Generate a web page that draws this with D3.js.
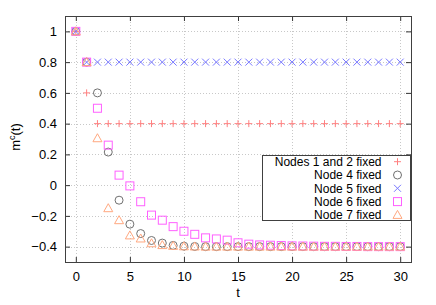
<!DOCTYPE html>
<html>
<head>
<meta charset="utf-8">
<script src="https://cdn.jsdelivr.net/npm/d3@7"></script>
<style>
  body { margin: 0; background: #fff; }
  text { font-family: "Liberation Sans", Arial, sans-serif; }
</style>
</head>
<body>
<div id="chart"></div>
<script>
// Chart size and plot box
const WIDTH = 436;
const HEIGHT = 305;
const MARGIN = { left: 65, top: 16, right: 25, bottom: 43 };

// Data
const tValues = [0, 1, 2, 3, 4, 5, 6, 7, 8, 9, 10, 11, 12, 13, 14, 15, 16, 17, 18, 19, 20,
                 21, 22, 23, 24, 25, 26, 27, 28, 29, 30];
const nodes12 = [1, 0.6, 0.4, 0.4, 0.4, 0.4, 0.4, 0.4, 0.4, 0.4, 0.4, 0.4, 0.4, 0.4, 0.4, 0.4,
                 0.4, 0.4, 0.4, 0.4, 0.4, 0.4, 0.4, 0.4, 0.4, 0.4, 0.4, 0.4, 0.4, 0.4, 0.4];
const node4 = [1, 0.8, 0.6, 0.215, -0.098, -0.254, -0.315, -0.36, -0.377, -0.392, -0.397,
               -0.399, -0.4, -0.4, -0.4, -0.4, -0.4, -0.4, -0.4, -0.4, -0.4, -0.4, -0.4, -0.4,
               -0.4, -0.4, -0.4, -0.4, -0.4, -0.4, -0.4];
const node5 = [1, 0.8, 0.8, 0.8, 0.8, 0.8, 0.8, 0.8, 0.8, 0.8, 0.8, 0.8, 0.8, 0.8, 0.8, 0.8,
               0.8, 0.8, 0.8, 0.8, 0.8, 0.8, 0.8, 0.8, 0.8, 0.8, 0.8, 0.8, 0.8, 0.8, 0.8];
const node6 = [1, 0.8, 0.5, 0.26, 0.065, -0.005, -0.108, -0.195, -0.228, -0.27, -0.3, -0.32,
               -0.343, -0.35, -0.358, -0.375, -0.384, -0.389, -0.391, -0.393, -0.395, -0.396,
               -0.397, -0.398, -0.398, -0.399, -0.399, -0.4, -0.4, -0.4, -0.4];
const node7 = [1, 0.8, 0.305, -0.15, -0.228, -0.327, -0.347, -0.378, -0.39, -0.395, -0.398,
               -0.399, -0.4, -0.4, -0.4, -0.4, -0.4, -0.4, -0.4, -0.4, -0.4, -0.4, -0.4, -0.4,
               -0.4, -0.4, -0.4, -0.4, -0.4, -0.4, -0.4];
const xTicks = [0, 5, 10, 15, 20, 25, 30];
const yTicks = [-0.4, -0.2, 0, 0.2, 0.4, 0.6, 0.8, 1];

const seriesList = [
    { name: "Nodes 1 and 2 fixed", values: nodes12, symbol: "plus", color: "#ff8080" },
    { name: "Node 4 fixed", values: node4, symbol: "circle", color: "#707070" },
    { name: "Node 5 fixed", values: node5, symbol: "cross", color: "#7878ff" },
    { name: "Node 6 fixed", values: node6, symbol: "square", color: "#ff60ff" },
    { name: "Node 7 fixed", values: node7, symbol: "triangle", color: "#ffa880" }
];

const plotW = WIDTH - MARGIN.left - MARGIN.right;
const plotH = HEIGHT - MARGIN.top - MARGIN.bottom;

const svg = d3.select("#chart").append("svg")
    .attr("width", WIDTH).attr("height", HEIGHT);
const g = svg.append("g").attr("transform", `translate(${MARGIN.left},${MARGIN.top})`);

const x = d3.scaleLinear().domain([-1, 31]).range([0, plotW]);
const y = d3.scaleLinear().domain([-0.5, 1.1]).range([plotH, 0]);

// Dotted grid
g.append("g").selectAll("line").data(xTicks).join("line")
    .attr("x1", d => Math.round(x(d)) + 0.5).attr("x2", d => Math.round(x(d)) + 0.5)
    .attr("y1", 0).attr("y2", plotH)
    .attr("stroke", "#c8c8c8").attr("stroke-dasharray", "1,2");
g.append("g").selectAll("line").data(yTicks).join("line")
    .attr("y1", d => Math.round(y(d)) + 0.5).attr("y2", d => Math.round(y(d)) + 0.5)
    .attr("x1", 0).attr("x2", plotW)
    .attr("stroke", "#c8c8c8").attr("stroke-dasharray", "1,2");

// Axes, ticks pointing inward, mirrored on top and right
const fmt = d => d3.format("")(+d.toFixed(1));
const axisB = g.append("g").attr("transform", `translate(0,${plotH})`)
    .call(d3.axisBottom(x).tickValues(xTicks).tickSize(-5).tickPadding(10));
const axisL = g.append("g")
    .call(d3.axisLeft(y).tickValues(yTicks).tickSize(-5).tickPadding(8).tickFormat(fmt));
const axisT = g.append("g")
    .call(d3.axisTop(x).tickValues(xTicks).tickSize(-5).tickFormat(""));
const axisR = g.append("g").attr("transform", `translate(${plotW},0)`)
    .call(d3.axisRight(y).tickValues(yTicks).tickSize(-5).tickFormat(""));

[axisB, axisL, axisT, axisR].forEach(a => {
    a.select(".domain").remove();
    a.selectAll("line").attr("stroke", "#333");
    a.selectAll("text").attr("font-size", 13).attr("fill", "#000")
        .attr("font-family", "'Liberation Sans', Arial, sans-serif");
});

// Border
g.append("rect").attr("x", 0.5).attr("y", 0.5)
    .attr("width", plotW).attr("height", plotH)
    .attr("fill", "none").attr("stroke", "#404040");

// Marker drawing
function drawSymbol(sel, symbol, color) {
    sel.attr("fill", "none").attr("stroke", color).attr("stroke-width", 1);
    if (symbol === "plus") {
        sel.append("path").attr("d", "M-3.5,0H3.5M0,-3.5V3.5");
    } else if (symbol === "cross") {
        sel.append("path").attr("d", "M-3.5,-3.5L3.5,3.5M-3.5,3.5L3.5,-3.5");
    } else if (symbol === "circle") {
        sel.append("circle").attr("r", 4);
    } else if (symbol === "square") {
        sel.append("rect").attr("x", -4).attr("y", -4).attr("width", 8).attr("height", 8);
    } else if (symbol === "triangle") {
        sel.append("path").attr("d", "M0,-4.5L4.5,3.5H-4.5Z");
    }
}

seriesList.forEach(s => {
    const pts = g.append("g").selectAll("g").data(tValues).join("g")
        .attr("transform", (d, i) => `translate(${x(d)},${y(s.values[i])})`);
    pts.each(function () { drawSymbol(d3.select(this), s.symbol, s.color); });
});

// Legend
const legend = svg.append("g");
legend.append("rect").attr("x", 262.5).attr("y", 155.5)
    .attr("width", 148).attr("height", 65)
    .attr("fill", "#fff").attr("stroke", "#404040");
seriesList.forEach((s, i) => {
    const cy = 161.7 + i * 13.3;
    legend.append("text").attr("x", 381.5).attr("y", cy).attr("dy", "0.35em")
        .attr("text-anchor", "end").attr("font-size", 12).text(s.name);
    const m = legend.append("g").attr("transform", `translate(397.5,${cy})`);
    drawSymbol(m, s.symbol, s.color);
});

// Axis titles
svg.append("text").attr("x", MARGIN.left + x(15)).attr("y", 297)
    .attr("text-anchor", "middle").attr("font-size", 13).text("t");
const yl = svg.append("text").attr("transform", "translate(20,137) rotate(-90)")
    .attr("text-anchor", "middle").attr("font-size", 13);
yl.append("tspan").text("m");
yl.append("tspan").attr("baseline-shift", "super").attr("font-size", 9).text("c");
yl.append("tspan").text("(t)");
</script>
</body>
</html>
